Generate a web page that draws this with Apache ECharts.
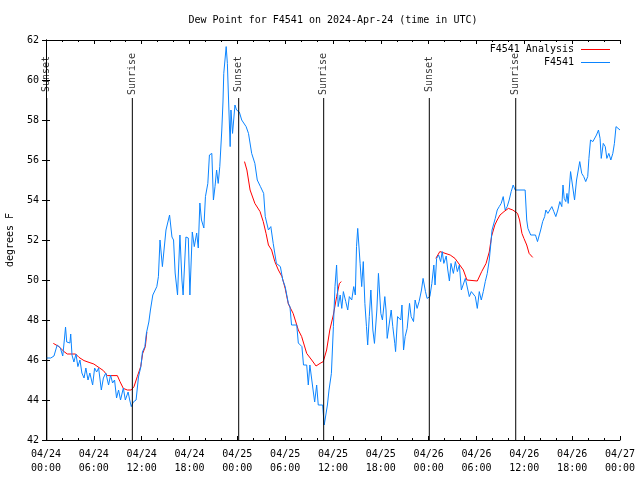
<!DOCTYPE html>
<html><head><meta charset="utf-8">
<script src="https://cdn.jsdelivr.net/npm/echarts@6/dist/echarts.min.js"></script>
<style>html,body{margin:0;padding:0;background:#fff}#c{width:640px;height:480px}</style>
</head><body><div id="c"></div>
<script>
const titleText = 'Dew Point for F4541 on 2024-Apr-24 (time in UTC)';
const yAxisName = 'degrees F';
const xTickLabels = ['04/24\n00:00','04/24\n06:00','04/24\n12:00','04/24\n18:00','04/25\n00:00','04/25\n06:00','04/25\n12:00','04/25\n18:00','04/26\n00:00','04/26\n06:00','04/26\n12:00','04/26\n18:00','04/27\n00:00'];
const sunHours = [0.1, 10.83, 24.17, 34.83, 48.08, 58.92];
const sunNames = ['Sunset','Sunrise','Sunset','Sunrise','Sunset','Sunrise'];

// hours since 04/24 00:00 UTC, dew point (F)
const obsData = [[0,46.1],[0.25,46.13],[0.6,46.1],[1.0,46.2],[1.4,46.75],[1.8,46.6],[2.1,46.2],[2.3,47.0],[2.45,47.65],[2.6,46.9],[2.76,46.9],[3.0,46.85],[3.1,47.3],[3.26,46.25],[3.5,45.9],[3.76,46.3],[4.0,45.67],[4.26,46.0],[4.5,45.35],[4.77,45.1],[5.0,45.6],[5.27,45.0],[5.5,45.35],[5.85,44.75],[6.1,45.6],[6.35,45.4],[6.6,45.6],[6.94,44.5],[7.2,45.1],[7.5,45.35],[7.85,44.75],[8.1,45.25],[8.35,44.85],[8.6,45.0],[8.85,44.1],[9.1,44.5],[9.35,44.0],[9.7,44.6],[9.95,44.0],[10.3,44.4],[10.5,44.0],[10.7,43.67],[10.95,43.9],[11.3,44.0],[11.6,45.15],[11.9,45.67],[12.1,46.4],[12.4,46.67],[12.6,47.35],[12.9,47.9],[13.1,48.5],[13.4,49.25],[13.6,49.25],[13.9,49.67],[14.1,50.17],[14.3,52.0],[14.6,50.67],[15.05,52.5],[15.5,53.25],[15.8,52.15],[16.0,52.0],[16.2,50.35],[16.5,49.25],[16.8,52.25],[17.05,50.0],[17.2,49.25],[17.55,52.15],[17.85,52.1],[18.05,49.25],[18.35,52.4],[18.6,51.67],[18.9,52.35],[19.1,51.6],[19.3,53.85],[19.5,53.0],[19.8,52.6],[20.0,54.17],[20.3,54.83],[20.5,56.25],[20.8,56.33],[21.0,54.0],[21.2,54.67],[21.4,55.5],[21.6,54.83],[21.8,55.67],[22.05,57.5],[22.2,58.9],[22.3,60.33],[22.6,61.67],[22.75,60.83],[22.9,59.0],[23.1,56.67],[23.2,58.5],[23.4,57.33],[23.7,58.75],[23.9,58.5],[24.25,58.4],[24.55,58.0],[24.8,58.1],[25.1,57.67],[25.4,57.33],[25.8,56.33],[26.2,55.83],[26.5,55.0],[26.9,54.67],[27.3,54.33],[27.5,53.17],[27.9,52.5],[28.2,52.67],[28.5,51.83],[28.9,50.83],[29.4,50.67],[29.7,50.0],[30.0,49.67],[30.4,48.83],[30.6,48.67],[30.8,47.75],[31.45,47.75],[31.65,46.85],[32.1,46.67],[32.3,45.75],[32.7,45.75],[32.9,44.75],[33.1,45.75],[33.3,45.67],[33.5,44.5],[33.7,43.9],[33.95,44.75],[34.15,43.75],[34.7,43.75],[34.9,42.75],[35.0,43.0],[35.3,43.75],[35.5,44.5],[35.8,45.33],[36.05,47.67],[36.25,49.67],[36.45,50.75],[36.65,48.67],[36.9,49.25],[37.1,48.58],[37.3,49.42],[37.6,48.92],[37.85,48.5],[38.05,49.17],[38.35,49.0],[38.6,49.67],[38.8,49.25],[38.95,51.67],[39.1,52.58],[39.2,52.0],[39.4,50.83],[39.6,49.67],[39.8,50.92],[40.0,48.83],[40.2,47.67],[40.35,46.75],[40.55,48.17],[40.75,49.5],[41.0,47.5],[41.2,46.83],[41.5,48.5],[41.7,50.33],[42.0,48.33],[42.2,48.0],[42.5,49.17],[42.65,48.5],[42.8,47.08],[43.05,47.08],[43.3,48.5],[43.5,47.67],[43.75,46.83],[43.85,46.42],[44.1,48.17],[44.3,48.17],[44.5,48.0],[44.65,48.75],[44.85,46.5],[45.05,47.17],[45.3,47.58],[45.6,48.83],[45.8,48.17],[46.1,47.92],[46.3,49.0],[46.55,48.58],[46.8,48.92],[47.1,49.5],[47.3,50.08],[47.6,49.42],[47.8,49.08],[48.15,49.17],[48.4,49.83],[48.65,50.75],[48.8,49.75],[49.0,51.08],[49.25,51.25],[49.5,50.92],[49.7,51.42],[49.9,50.83],[50.2,51.2],[50.4,50.5],[50.6,49.95],[50.8,50.83],[51.1,50.33],[51.35,50.92],[51.6,50.42],[51.85,50.75],[52.1,49.5],[52.35,49.5],[52.6,50.08],[52.85,50.08],[53.1,49.17],[53.35,49.42],[53.6,49.42],[53.85,49.17],[54.1,48.58],[54.35,49.42],[54.6,49.0],[54.85,49.42],[55.1,49.92],[55.35,50.33],[55.6,51.0],[55.8,51.83],[55.95,52.5],[56.1,52.58],[56.35,53.08],[56.6,53.5],[56.85,53.67],[57.1,53.83],[57.35,54.17],[57.6,53.5],[57.85,53.67],[58.1,54.0],[58.35,54.42],[58.6,54.75],[58.85,54.5],[60.1,54.5],[60.3,53.0],[60.45,52.58],[60.8,52.25],[61.4,52.25],[61.65,51.92],[61.9,51.92],[62.05,52.5],[62.3,52.92],[62.55,53.17],[62.7,53.5],[62.95,53.33],[63.2,53.33],[63.45,53.67],[63.7,53.42],[63.95,53.17],[64.2,53.5],[64.45,53.92],[64.7,53.67],[64.85,54.75],[65.0,54.08],[65.2,53.92],[65.35,54.33],[65.5,53.83],[65.8,55.42],[66.05,55.33],[66.3,54.0],[66.55,55.0],[66.8,55.0],[66.95,55.92],[67.2,55.33],[67.45,55.17],[67.7,54.92],[67.95,55.17],[68.1,56.08],[68.3,57.0],[68.45,57.08],[68.6,56.92],[68.85,56.83],[69.05,57.25],[69.3,57.5],[69.5,57.08],[69.65,56.08],[69.9,56.83],[70.15,56.67],[70.35,56.08],[70.6,56.33],[70.85,56.0],[71.1,56.33],[71.3,56.83],[71.5,57.67],[71.75,57.75],[72.0,57.5]];

const analysisSeg1 = [[0.92,46.83],[1.63,46.67],[2.26,46.42],[2.67,46.3],[3.72,46.3],[4.14,46.13],[4.77,45.97],[5.4,45.88],[6.0,45.8],[6.65,45.62],[7.2,45.47],[7.7,45.22],[8.95,45.22],[9.28,44.92],[9.7,44.58],[10.2,44.5],[10.7,44.5],[11.04,44.67],[11.45,45.17],[11.88,45.67],[12.13,46.33],[12.46,46.67],[12.65,47.4]];
const analysisSeg2 = [[24.9,55.92],[25.2,55.5],[25.6,54.5],[26.2,53.83],[26.85,53.42],[27.25,52.92],[27.6,52.33],[27.9,51.75],[28.3,51.5],[28.7,50.92],[29.15,50.5],[29.6,50.17],[30.0,49.58],[30.4,48.8],[31.0,48.33],[31.65,47.5],[32.07,47.17],[32.7,46.33],[33.33,46.0],[33.87,45.7],[34.37,45.83],[34.78,45.92],[35.2,46.5],[35.6,47.5],[36.04,48.25],[36.46,49.17],[36.8,49.83],[37.05,49.92]];
const analysisSeg3 = [[48.9,51.08],[49.4,51.42],[49.8,51.37],[50.7,51.25],[51.3,51.08],[51.9,50.75],[52.35,50.5],[52.8,50.0],[53.0,49.95],[54.1,49.95],[54.65,50.42],[55.2,50.83],[55.6,51.4],[55.9,52.2],[56.3,52.75],[56.6,53.0],[56.95,53.25],[57.45,53.42],[58.0,53.58],[58.55,53.5],[59.15,53.33],[59.4,53.0],[59.7,52.33],[59.95,52.08],[60.3,51.75],[60.6,51.33],[61.05,51.13]];

const FONT = 'DejaVu Sans Mono';
const chart = echarts.init(document.getElementById('c'), null, {renderer:'canvas'});

const tickCommon = {
  axisLine:{show:true, lineStyle:{color:'#000', width:1}},
  axisTick:{show:true, inside:true, length:4, lineStyle:{color:'#000'}},
  splitLine:{show:false}
};
const xCommon = Object.assign({type:'value', min:0, max:72, interval:6,
  minorTick:{show:true, splitNumber:3, length:2, lineStyle:{color:'#000'}}}, tickCommon);
const yCommon = Object.assign({type:'value', min:42, max:62, interval:2}, tickCommon);

const series = [];
[analysisSeg1, analysisSeg2, analysisSeg3].forEach(seg => series.push({
  name:'F4541 Analysis', type:'line', data:seg, symbol:'none', color:'#ff0000',
  lineStyle:{width:1, color:'#ff0000'}, z:2, silent:true
}));
series.push({name:'F4541', type:'line', data:obsData, symbol:'none', color:'#0a84ff',
  lineStyle:{width:1, color:'#0a84ff'}, z:3, silent:true});
sunHours.forEach((t,i) => {
  series.push({type:'line', data:[[t,42],[t,59.1]], symbol:'none', silent:true,
    lineStyle:{width:1, color:'#000'}, z:4});
  series.push({type:'scatter', data:[[t,60.3]], symbolSize:0, silent:true, z:4,
    label:{show:true, position:'inside', rotate:90, formatter:sunNames[i],
      fontFamily:FONT, fontSize:10, color:'#000'}});
});

chart.setOption({
  animation:false,
  backgroundColor:'#fff',
  title:{text:titleText, left:333, top:15, padding:0, textAlign:'center',
    textStyle:{fontFamily:FONT, fontSize:10, fontWeight:'normal', color:'#000'}},
  legend:{data:[{name:'F4541 Analysis'},{name:'F4541'}], orient:'vertical', right:30, top:43, padding:0,
    align:'right', icon:'rect', itemWidth:29, itemHeight:1, itemGap:0,
    textStyle:{fontFamily:FONT, fontSize:10, color:'#000', lineHeight:13, padding:[0,2,0,0]}},
  grid:{left:46, right:20, top:40, bottom:40, containLabel:false, outerBoundsMode:'none'},
  xAxis:[
    Object.assign({}, xCommon, {position:'bottom',
      axisLabel:{show:true, margin:7, fontFamily:FONT, fontSize:10, color:'#000', lineHeight:14,
        formatter: v => xTickLabels[Math.round(v/6)]}}),
    Object.assign({}, xCommon, {position:'top', axisLabel:{show:false}})
  ],
  yAxis:[
    Object.assign({}, yCommon, {position:'left', name:yAxisName, nameLocation:'middle', nameGap:31,
      nameTextStyle:{fontFamily:FONT, fontSize:10, color:'#000'},
      axisLabel:{show:true, margin:7, fontFamily:FONT, fontSize:10, color:'#000'}}),
    Object.assign({}, yCommon, {position:'right', axisLabel:{show:false}})
  ],
  series:series
});
</script></body></html>
